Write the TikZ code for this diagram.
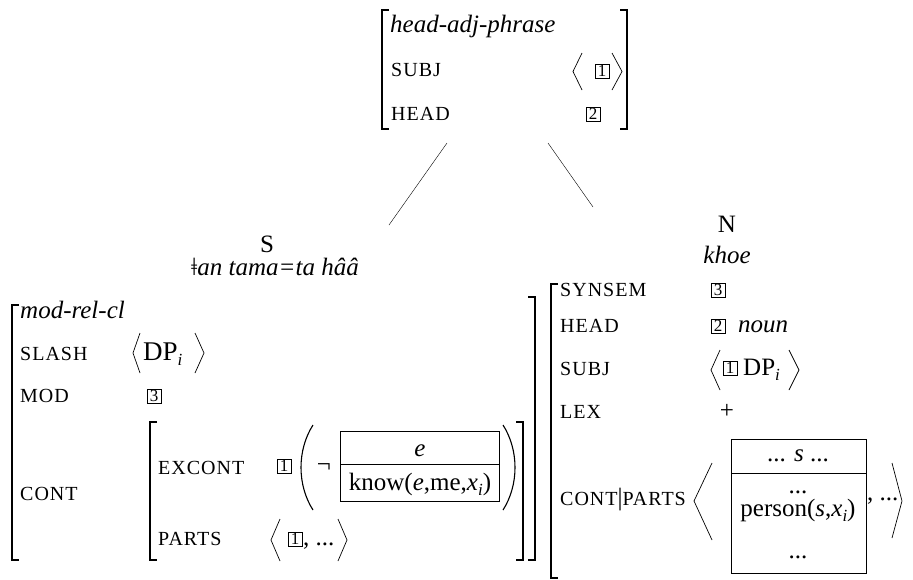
\documentclass[tikz,border=0pt]{standalone}
\usepackage{fontspec}
\setmainfont{Liberation Serif}
\newfontfamily\featfont[LetterSpace=5]{Liberation Serif}
\usetikzlibrary{arrows.meta}
\newcommand\sbi{\raisebox{-5pt}{\fontsize{17}{17}\selectfont\itshape i}}

\begin{document}
\begin{tikzpicture}[x=1pt,y=-1pt,
		every node/.style={inner sep=0pt,font=\fontsize{25}{30}\selectfont},
		feat/.style={anchor=base west,font=\featfont\fontsize{20}{20}\selectfont},
		val/.style={anchor=base west},
		tag/.style={draw,line width=0.6pt,minimum width=14pt,minimum height=14pt,font=\fontsize{17}{17}\selectfont},
		brk/.style={line width=1.1pt},
		ang/.style={line width=0.7pt},
		drs/.style={line width=0.8pt}]
	\useasboundingbox (0,0) rectangle (913,579);

	% mother: head-adj-phrase
	\draw[brk] (389,10) -- (382,10) -- (382,129) -- (389,129);
	\draw[brk] (620,10) -- (627,10) -- (627,129) -- (620,129);
	\node[val] (mtype) at (390,32) {\textit{head-adj-phrase}};
	\node[feat] (msubj) at (391,76) {SUBJ};
	\node[tag] (mt1) at (602,71) {1};
	\draw[ang] (582,53) -- (573,71.5) -- (582,90);
	\draw[ang] (612,53) -- (622,71.5) -- (612,90);
	\node[feat] (mhead) at (391,120) {HEAD};
	\node[tag] (mt2) at (593,114) {2};

	% branches
	\coordinate (ml) at (447,143);
	\coordinate (mr) at (548,143);
	\coordinate (sl) at (389,225);
	\coordinate (nr) at (593,207);
	\path (ml) edge (sl);
	\path (mr) edge (nr);

	% daughters
	\node[anchor=base] (s) at (267,252) {S};
	\node[anchor=base] (sw) at (275,275) {\textit{ǂan tama=ta hââ}};
	\node[anchor=base] (n) at (727,232) {N};
	\node[anchor=base] (nw) at (727,263) {\textit{khoe}};

	% left daughter: mod-rel-cl
	\draw[brk] (19,305) -- (12,305) -- (12,560) -- (19,560);
	\draw[brk] (528,297) -- (535,297) -- (535,560) -- (528,560);
	\node[val] (ltype) at (20,318) {\textit{mod-rel-cl}};
	\node[feat] (lslash) at (20,360) {SLASH};
	\draw[ang] (140,333) -- (133,353) -- (140,373);
	\node[val] (ldp) at (143,360) {\fontsize{27}{30}\selectfont DP\sbi};
	\draw[ang] (195,333) -- (204,353) -- (195,373);
	\node[feat] (lmod) at (20,402) {MOD};
	\node[tag] (lt3) at (154,396) {3};
	\node[feat] (lcont) at (20,500) {CONT};

	\draw[brk] (157,422) -- (150,422) -- (150,560) -- (157,560);
	\draw[brk] (516,422) -- (523,422) -- (523,560) -- (516,560);
	\node[feat] (lex) at (158,474) {EXCONT};
	\node[tag] (lt1) at (284,466) {1};
	\draw[line width=1.1pt] (313,425) .. controls (297,450) and (297,485) .. (313,510);
	\node[anchor=base] (lneg) at (324,472) {¬};
	\draw[drs] (340,431) rectangle (499,501);
	\draw[drs] (340,464) -- (499,464);
	\node[anchor=base] (ldref) at (420,456) {\textit{e}};
	\node[anchor=base] (ldcond) at (420,490) {know(\textit{e},me,\textit{x}\sbi)};
	\draw[line width=1.1pt] (503,425) .. controls (519,450) and (519,485) .. (503,510);
	\node[feat] (lparts) at (158,545) {PARTS};
	\draw[ang] (280,519) -- (271,540) -- (280,561);
	\node[tag] (lt1b) at (295,539) {1};
	\node[val] (lrest) at (303,545) {, ...};
	\draw[ang] (338,519) -- (347,540) -- (338,561);

	% right daughter: khoe
	\draw[brk] (558,284) -- (551,284) -- (551,578) -- (558,578);
	\node[feat] (rsyn) at (560,296) {SYNSEM};
	\node[tag] (rt3) at (718,290) {3};
	\node[feat] (rhead) at (560,332) {HEAD};
	\node[tag] (rt2) at (718,326) {2};
	\node[val] (rnoun) at (738,332) {\textit{noun}};
	\node[feat] (rsubj) at (560,375) {SUBJ};
	\draw[ang] (720,350) -- (711,370) -- (720,390);
	\node[tag] (rt1) at (730,368) {1};
	\node[val] (rdp) at (743,375) {DP\sbi};
	\draw[ang] (789,350) -- (799,370) -- (789,390);
	\node[feat] (rlex) at (560,418) {LEX};
	\node[anchor=base] (rplus) at (727,418) {+};
	\node[feat] (rcont) at (560,505) {CONT{\rmfamily\fontsize{25}{25}\selectfont|}PARTS};
	\draw[ang] (712,463) -- (694,501) -- (712,540);
	\draw[drs] (731,439) rectangle (866,573);
	\draw[drs] (731,473) -- (866,473);
	\node[anchor=base] (rdref) at (798,461) {... \textit{s} ...};
	\node[anchor=base] (rdots) at (798,493) {...};
	\node[anchor=base] (rdcond) at (798,516) {person(\textit{s},\textit{x}\sbi)};
	\node[anchor=base] (rdotsb) at (798,558) {...};
	\node[val] (rrest) at (867,500) {, ...};
	\draw[ang] (892,463) -- (902,501) -- (892,538);
\end{tikzpicture}
\end{document}
